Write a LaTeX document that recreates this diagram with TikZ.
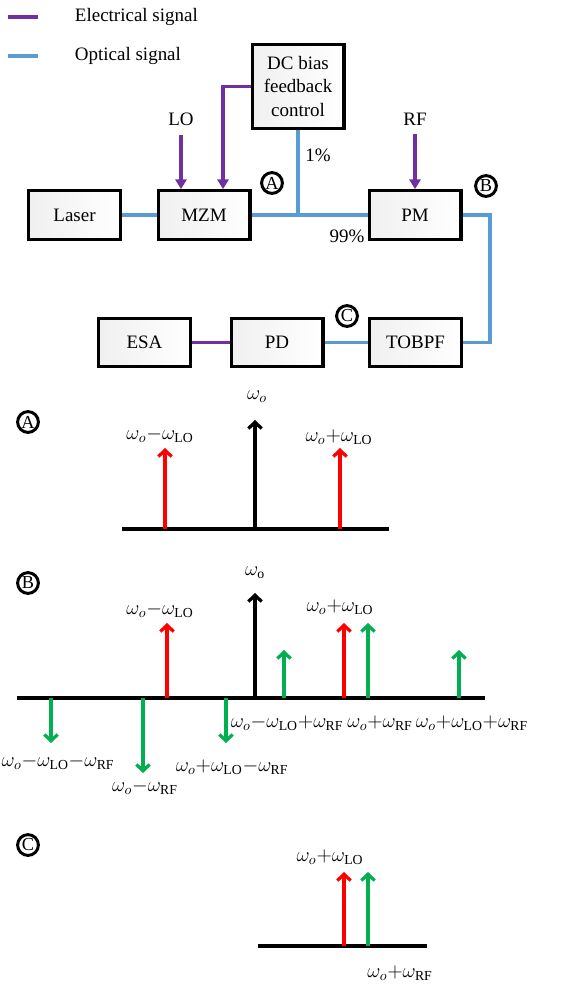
\documentclass[tikz,border=0pt]{standalone}
\usepackage{fontspec}
\setmainfont{Liberation Serif}
\usetikzlibrary{positioning,calc,arrows.meta}
\definecolor{elec}{RGB}{112,48,160}
\definecolor{opt}{RGB}{91,155,213}
\definecolor{lred}{RGB}{255,0,0}
\definecolor{lgreen}{RGB}{0,176,80}

\begin{document}
\begin{tikzpicture}[x=0.025cm,y=-0.025cm,font=\fontsize{13.5}{15}\selectfont,
  blk/.style={draw,line width=2.4pt,minimum width=2.29cm,minimum height=1.21cm,left color=gray!12,right color=white,inner sep=1pt},
  eline/.style={elec,line width=2.2pt},
  oline/.style={opt,line width=2.2pt},
  earr/.style={elec,line width=2.2pt,-{Triangle[length=7pt,width=8pt]}},
  circ/.style={circle,draw,line width=2.1pt,inner sep=0pt,minimum size=0.52cm,font=\fontsize{13}{13}\selectfont},
  axis/.style={line width=2.8pt},
  spk/.style={line width=2.4pt,-{Straight Barb[length=4.5pt,width=9.5pt,line width=2.3pt]}},
  lbl/.style={inner sep=1pt,font=\fontsize{14}{15}\selectfont}]
\useasboundingbox (0,0) rectangle (568,985);
% legend
\draw[eline] (8,17) -- (38,17);\node[anchor=west] (legE) at (70,17) {Electrical signal};
\draw[oline] (8,56) -- (38,56);\node[anchor=west] (legO) at (70,56) {Optical signal};
% blocks
\node[blk] (laser) at (74.5,215) {Laser};
\node[blk] (mzm) at (204,215) {MZM};
\node[blk] (pm) at (415,215) {PM};
\node[blk,minimum height=2.09cm,align=center,font=\fontsize{13.5}{17}\selectfont] (dc) at (298,86.5) {DC bias\\feedback\\control};
\node[blk] (esa) at (144.5,342.5) {ESA};
\node[blk] (pd) at (277,342.5) {PD};
\node[blk] (tobpf) at (415.5,342.5) {TOBPF};
% inputs
\node (lo) at (181,119) {LO};
\node (rf) at (415,119) {RF};
\draw[earr] ([yshift=-3pt]lo.south) -- (lo.south |- mzm.north);
\draw[earr] ([yshift=-3pt]rf.south) -- (rf.south |- pm.north);
\draw[earr] (dc.west) -| ($(mzm.north)+(19,0)$);
% optical path
\coordinate (turn) at (490,215);
\draw[oline] (laser.east) -- (mzm.west);
\draw[oline] (mzm.east) -- (pm.west);
\draw[oline] (dc.south) -- (dc.south |- mzm.east);
\draw[oline] (pm.east) -- (turn) |- (tobpf.east);
\draw[oline] (tobpf.west) -- (pd.east);
\draw[eline] (pd.west) -- (esa.east);
\node (p1) at (318,155) {1\%};
\node (p99) at (347,236) {99\%};
\node[circ] (cA) at (272,183) {A};
\node[circ] (cB) at (486,186) {B};
\node[circ] (cC) at (347,316) {C};
% spectrum A
\node[circ] (sA) at (28,422) {A};
\draw[axis] (122,529) -- (389,529);
\draw[spk] (255,529) -- (255,420);
\draw[spk,lred] (165,529) -- (165,448);
\draw[spk,lred] (340,529) -- (340,448);
\node[lbl] (aO) at (257,397) {$\omega_o$};
\node[lbl] (aL) at (160,435) {$\omega_o{-}\omega_{\mathrm{LO}}$};
\node[lbl] (aU) at (339,437) {$\omega_o{+}\omega_{\mathrm{LO}}$};
% spectrum B
\node[circ] (sB) at (28,583) {B};
\draw[axis] (17,698) -- (485,698);
\draw[spk] (255,698) -- (255,593);
\draw[spk,lred] (167,698) -- (167,623);
\draw[spk,lred] (344,698) -- (344,623);
\draw[spk,lgreen] (368,698) -- (368,623);
\draw[spk,lgreen] (284,698) -- (284,650);
\draw[spk,lgreen] (459,698) -- (459,650);
\draw[spk,lgreen] (51,698) -- (51,743);
\draw[spk,lgreen] (143,698) -- (143,773);
\draw[spk,lgreen] (226,698) -- (226,743);
\node[lbl] (bO) at (255,573) {$\omega_{\mathrm{o}}$};
\node[lbl] (bL) at (160,610) {$\omega_o{-}\omega_{\mathrm{LO}}$};
\node[lbl] (bU) at (340,607) {$\omega_o{+}\omega_{\mathrm{LO}}$};
\node[lbl] (bLR) at (287,723) {$\omega_o{-}\omega_{\mathrm{LO}}{+}\omega_{\mathrm{RF}}$};
\node[lbl] (bR) at (380,723) {$\omega_o{+}\omega_{\mathrm{RF}}$};
\node[lbl] (bUR) at (472,723) {$\omega_o{+}\omega_{\mathrm{LO}}{+}\omega_{\mathrm{RF}}$};
\node[lbl] (bLL) at (58,762) {$\omega_o{-}\omega_{\mathrm{LO}}{-}\omega_{\mathrm{RF}}$};
\node[lbl] (bUL) at (232,767) {$\omega_o{+}\omega_{\mathrm{LO}}{-}\omega_{\mathrm{RF}}$};
\node[lbl] (bmR) at (145,787) {$\omega_o{-}\omega_{\mathrm{RF}}$};
% spectrum C
\node[circ] (sC) at (28,845) {C};
\draw[axis] (258,946) -- (427,946);
\draw[spk,lred] (344,946) -- (344,872);
\draw[spk,lgreen] (368,946) -- (368,872);
\node[lbl] (cU) at (330,857) {$\omega_o{+}\omega_{\mathrm{LO}}$};
\node[lbl] (cR) at (400,973) {$\omega_o{+}\omega_{\mathrm{RF}}$};
\end{tikzpicture}
\end{document}
